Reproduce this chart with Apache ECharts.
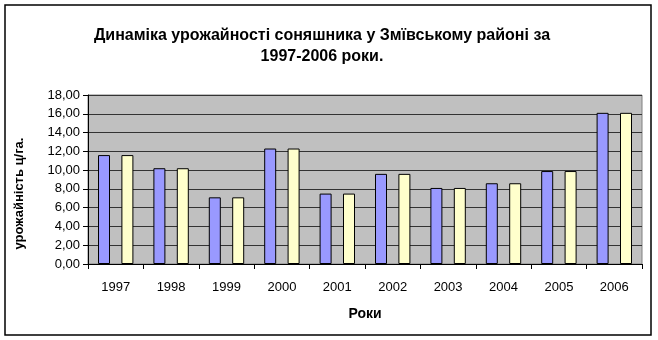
<!DOCTYPE html>
<html>
<head>
<meta charset="utf-8">
<script src="https://cdn.jsdelivr.net/npm/echarts@6/dist/echarts.min.js"></script>
<style>
html,body{margin:0;padding:0;background:#fff;}
#chart{width:658px;height:340px;}
</style>
</head>
<body>
<div id="chart"></div>
<script>
var categories = ['1997','1998','1999','2000','2001','2002','2003','2004','2005','2006'];
var seriesA = [11.6, 10.2, 7.1, 12.3, 7.5, 9.6, 8.1, 8.6, 9.9, 16.1];
var seriesB = [11.6, 10.2, 7.1, 12.3, 7.5, 9.6, 8.1, 8.6, 9.9, 16.1];
var titleText = 'Динаміка урожайності соняшника у Змївському районі за\n1997-2006 роки.';
var yName = 'урожайність ц/га.';
var xName = 'Роки';

var chart = echarts.init(document.getElementById('chart'), null, {renderer:'canvas'});
var font = 'Liberation Sans, Arial, sans-serif';
chart.setOption({
  animation: false,
  backgroundColor: '#fff',
  title: {
    text: titleText,
    left: 317, top: 20, textAlign: 'center',
    textStyle: {fontFamily: font, fontSize: 16, fontWeight: 'bold', color: '#000', lineHeight: 21}
  },
  graphic: [{
    type: 'rect', shape: {x: 5, y: 5, width: 646, height: 330},
    style: {fill: 'none', stroke: '#000', lineWidth: 1.5}, silent: true
  }],
  grid: {left: 88, right: 16, top: 95, bottom: 76, show: true, backgroundColor: '#C0C0C0', borderColor: '#808080', borderWidth: 1},
  xAxis: {
    type: 'category', data: categories,
    name: xName, nameLocation: 'middle', nameGap: 43,
    nameTextStyle: {fontFamily: font, fontSize: 14, fontWeight: 'bold', color: '#000'},
    axisLine: {lineStyle: {color: '#000', width: 1}},
    axisTick: {show: true, length: 5, lineStyle: {color: '#000'}},
    axisLabel: {fontFamily: font, fontSize: 13, color: '#000', margin: 17},
    splitLine: {show: false}
  },
  yAxis: {
    type: 'value', min: 0, max: 18, interval: 2,
    name: yName, nameLocation: 'middle', nameGap: 62,
    nameTextStyle: {fontFamily: font, fontSize: 13, fontWeight: 'bold', color: '#000', padding: [0, 28, 0, 0]},
    axisLine: {show: true, lineStyle: {color: '#000', width: 1}},
    axisTick: {show: true, length: 5, lineStyle: {color: '#000'}},
    axisLabel: {fontFamily: font, fontSize: 13, color: '#000', margin: 8,
      formatter: function(v){ return v.toFixed(2).replace('.', ','); }},
    splitLine: {show: true, lineStyle: {color: '#333', width: 1}}
  },
  series: [
    {type: 'bar', data: seriesA, barWidth: 12, barGap: '95%',
     itemStyle: {color: '#9999FF', borderColor: '#000', borderWidth: 1}},
    {type: 'bar', data: seriesB, barWidth: 12, barGap: '95%',
     itemStyle: {color: '#FFFFCC', borderColor: '#000', borderWidth: 1}}
  ]
});
</script>
</body>
</html>
